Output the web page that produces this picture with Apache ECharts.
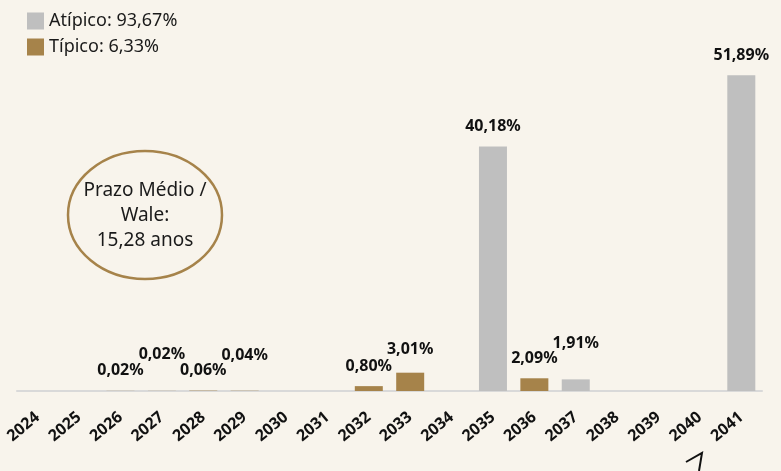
<!DOCTYPE html>
<html>
<head>
<meta charset="utf-8">
<script src="https://cdn.jsdelivr.net/npm/echarts@6/dist/echarts.min.js"></script>
<style>
  html, body { margin: 0; padding: 0; background: #f8f4ec; }
  #main { width: 781px; height: 471px; }
</style>
</head>
<body>
<div id="main"></div>
<script>
// anos de vencimento
var years = ['2024','2025','2026','2027','2028','2029','2030','2031','2032','2033',
             '2034','2035','2036','2037','2038','2039','2040','2041']
// % da receita por ano
var atipico = [null,null,null,null,null,null,null,null,null,null,
               null,40.18,null,1.91,null,null,null,51.89]
var tipico  = [null,null,0.02,0.02,0.06,0.04,null,null,0.80,3.01,
               null,null,2.09,null,null,null,null,null]
var legendNames = ['Atípico: 93,67%', 'Típico: 6,33%']
var waleText = 'Prazo Médio /\nWale:\n15,28 anos'

// rótulos que sobem um pouco para não se sobrepor
var labelLift = { '2027': 16, '2029': 15, '2033': 3, '2037': 16 }

var GREY = '#bfbfbf', GOLD = '#a6834a'

function fmt(p) {
  return p.value.toFixed(2).replace('.', ',') + '%'
}

function toData(arr) {
  return arr.map(function (v, i) {
    if (v == null) return null
    var lift = labelLift[years[i]] || 0
    return { value: v, label: { offset: [0, -lift] } }
  })
}

var labelStyle = {
  show: true,
  position: 'top',
  distance: 12,
  formatter: fmt,
  fontFamily: 'Noto Sans',
  fontWeight: 'bold',
  fontSize: 16,
  color: '#111'
}

var myChart = echarts.init(document.getElementById('main'))
var option = {
  backgroundColor: '#f8f4ec',
  animation: false,
  grid: { left: 17, right: 19, top: 26, bottom: 80, containLabel: false },
  legend: {
    orient: 'vertical',
    left: 22,
    top: 7,
    itemWidth: 17,
    itemHeight: 17,
    itemGap: 8,
    icon: 'rect',
    textStyle: { fontFamily: 'Noto Sans', fontSize: 18, color: '#1a1a1a' },
    data: legendNames
  },
  xAxis: {
    type: 'category',
    data: years,
    axisLine: { lineStyle: { color: '#d9d9d9', width: 2 } },
    axisTick: { show: false },
    axisLabel: {
      interval: 0,
      rotate: 40,
      margin: 24,
      fontFamily: 'Noto Sans',
      fontWeight: 'bold',
      fontSize: 16,
      color: '#111'
    }
  },
  yAxis: {
    type: 'value',
    min: 0,
    max: 60,
    show: false,
    splitLine: { show: false }
  },
  series: [
    {
      name: legendNames[0],
      type: 'bar',
      stack: 'total',
      barWidth: 28,
      itemStyle: { color: GREY },
      label: labelStyle,
      data: toData(atipico)
    },
    {
      name: legendNames[1],
      type: 'bar',
      stack: 'total',
      barWidth: 28,
      itemStyle: { color: GOLD },
      label: labelStyle,
      data: toData(tipico)
    }
  ],
  graphic: [
    {
      type: 'ellipse',
      shape: { cx: 145, cy: 215, rx: 77, ry: 64 },
      style: { fill: 'none', stroke: GOLD, lineWidth: 2.5 }
    },
    {
      type: 'text',
      x: 145,
      y: 216,
      style: {
        text: waleText,
        fontFamily: 'Noto Sans',
        fontSize: 19,
        lineHeight: 25,
        fill: '#1a1a1a',
        align: 'center',
        verticalAlign: 'middle'
      }
    },
    {
      type: 'polyline',
      shape: { points: [[686, 462], [702, 453], [699, 471]] },
      style: { fill: 'none', stroke: '#111', lineWidth: 2 }
    }
  ]
}
myChart.setOption(option)
</script>
</body>
</html>
